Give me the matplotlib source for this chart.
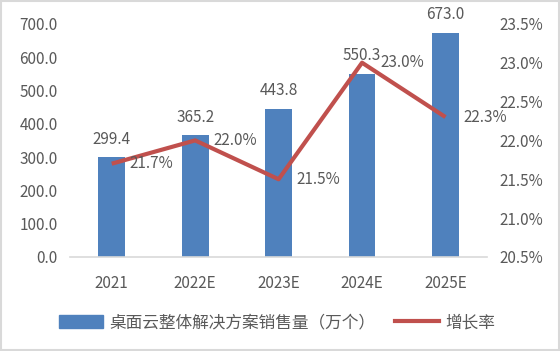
import matplotlib
matplotlib.use("Agg")
import matplotlib.pyplot as plt
from matplotlib.patches import Rectangle, Patch
from matplotlib.lines import Line2D
from matplotlib.ticker import FuncFormatter, MultipleLocator

plt.rcParams['font.family'] = ['Noto Sans CJK SC', 'DejaVu Sans']

categories = ["2021", "2022E", "2023E", "2024E", "2025E"]
sales = [299.4, 365.2, 443.8, 550.3, 673.0]
growth = [21.7, 22.0, 21.5, 23.0, 22.3]
bar_label = "桌面云整体解决方案销售量（万个）"
line_label = "增长率"

BLUE = "#4F81BD"
RED = "#C0504D"
TXT = "#595959"

fig = plt.figure(figsize=(5.6, 3.51), dpi=100)
ax = fig.add_axes([0.125, 0.268, 0.745, 0.664])
ax2 = ax.twinx()

x = list(range(len(categories)))
bars = ax.bar(x, sales, width=0.32, color=BLUE, zorder=2)
ax.set_xlim(-0.5, len(categories) - 0.5)
ax.set_ylim(0, 700)
ax.yaxis.set_major_locator(MultipleLocator(100))
ax.yaxis.set_major_formatter(FuncFormatter(lambda v, p: f"{v:.1f}"))
ax.set_xticks(x)
ax.set_xticklabels(categories)

ax2.set_ylim(20.5, 23.5)
ax2.yaxis.set_major_locator(MultipleLocator(0.5))
ax2.yaxis.set_major_formatter(FuncFormatter(lambda v, p: f"{v:.1f}%"))
ax2.plot(x, growth, color=RED, linewidth=3, solid_capstyle='butt', zorder=3)

for a in (ax, ax2):
    for s in ("top", "left", "right"):
        a.spines[s].set_visible(False)
    a.spines["bottom"].set_visible(False)
    a.tick_params(length=0, labelsize=11, colors=TXT)
ax.spines["bottom"].set_visible(True)
ax.spines["bottom"].set_color("#D9D9D9")
ax.spines["bottom"].set_linewidth(1.2)
ax.tick_params(axis='y', pad=9)
ax.tick_params(axis='x', pad=13)
ax2.tick_params(axis='y', pad=9)

for xi, v in zip(x, sales):
    ax.annotate(f"{v:.1f}", (xi, v), xytext=(0, 7), textcoords="offset points",
                ha="center", va="bottom", fontsize=11, color=TXT)
for xi, g in zip(x, growth):
    ax2.annotate(f"{g:.1f}%", (xi, g), xytext=(13, 0), textcoords="offset points",
                 ha="left", va="center", fontsize=11, color=TXT, zorder=4)

handles = [Patch(facecolor=BLUE, edgecolor=BLUE),
           Line2D([0], [0], color=RED, linewidth=3)]
fig.legend(handles, [bar_label, line_label], loc="center", bbox_to_anchor=(0.495, 0.08),
           ncol=2, frameon=False, fontsize=12, labelcolor=TXT,
           handlelength=2.6, handleheight=0.8, handletextpad=0.4, columnspacing=1.2)

fig.patches.append(Rectangle((0.002, 0.003), 0.996, 0.994, transform=fig.transFigure,
                             fill=False, edgecolor="#D9D9D9", linewidth=1.5))

fig.savefig("out.png", dpi=100)
